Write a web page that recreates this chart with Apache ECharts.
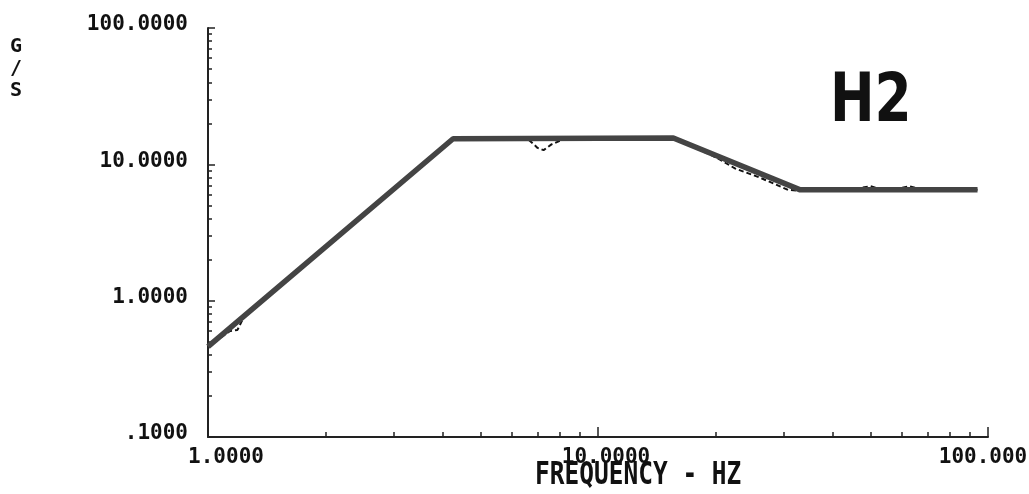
<!DOCTYPE html>
<html>
<head>
<meta charset="utf-8">
<script src="https://cdn.jsdelivr.net/npm/echarts@6/dist/echarts.min.js"></script>
<style>
  html, body { margin: 0; padding: 0; background: #fff; }
  #chart { width: 1029px; height: 494px; }
</style>
</head>
<body>
<div id="chart"></div>
<script>
// straight-line fit (thick grey line)
var fitFreq = [1.0, 4.25, 15.6, 33, 94];
var fitGs = [0.46, 15.4, 15.6, 6.5, 6.5];

// measured response (thin dashed line, mostly hidden under the fit)
var measFreq = [1.0, 1.14, 1.19, 1.23, 1.35, 4.25, 6.6, 7.0, 7.25, 7.6, 8.2, 15.6, 20, 22.5, 26, 30.7, 33, 45, 50, 53, 58, 63, 67, 94];
var measGs = [0.46, 0.60, 0.61, 0.74, 0.95, 15.4, 15.4, 13.2, 12.7, 14.0, 15.4, 15.6, 11.3, 9.3, 8.0, 6.5, 6.4, 6.6, 6.9, 6.6, 6.6, 6.9, 6.6, 6.5];

var xMajor = [1, 10, 100];
var xTickLabels = ['1.0000', '10.0000', '100.000'];
var yMajor = [0.1, 1, 10, 100];
var yTickLabels = ['.1000', '1.0000', '10.0000', '100.0000'];
var xMinor = [2, 3, 4, 5, 6, 7, 8, 9, 20, 30, 40, 50, 60, 70, 80, 90];
var yMinor = [0.2, 0.3, 0.4, 0.5, 0.6, 0.7, 0.8, 0.9, 2, 3, 4, 5, 6, 7, 8, 9, 20, 30, 40, 50, 60, 70, 80, 90];

function pairs(xs, ys) {
  return xs.map(function (x, i) { return [x, ys[i]]; });
}

var labelFont = {
  fontFamily: 'DejaVu Sans Mono',
  fontWeight: 'bold',
  fontSize: 21,
  color: '#111'
};

var chart = echarts.init(document.getElementById('chart'));

var option = {
  backgroundColor: '#fff',
  animation: false,
  grid: { left: 208, right: 41, top: 28, bottom: 57, outerBoundsMode: 'none', containLabel: false },
  xAxis: [
    {
      type: 'log', logBase: 10, min: 1, max: 100,
      position: 'bottom',
      axisLine: { show: true, lineStyle: { color: '#222', width: 2 } },
      axisTick: { show: true, inside: true, length: 5, customValues: xMinor, lineStyle: { color: '#222', width: 1.5 } },
      splitLine: { show: false },
      axisLabel: {
        show: true,
        margin: 10,
        customValues: xMajor,
        formatter: function (v) {
          var i = Math.round(Math.log10(v));
          return '{s' + i + '|' + xTickLabels[i] + '}';
        },
        rich: {
          s0: Object.assign({ padding: [0, 0, 0, 36] }, labelFont),
          s1: Object.assign({ padding: [0, 0, 0, 16] }, labelFont),
          s2: Object.assign({ padding: [0, 10, 0, 0] }, labelFont)
        }
      }
    },
    {
      type: 'log', logBase: 10, min: 1, max: 100,
      position: 'bottom',
      axisLine: { show: false },
      axisTick: { show: true, inside: true, length: 10, customValues: xMajor, lineStyle: { color: '#222', width: 1.5 } },
      axisLabel: { show: false },
      splitLine: { show: false }
    }
  ],
  yAxis: [
    {
      type: 'log', logBase: 10, min: 0.1, max: 100,
      position: 'left',
      axisLine: { show: true, lineStyle: { color: '#222', width: 2 } },
      axisTick: { show: true, inside: true, length: 4, customValues: yMinor, lineStyle: { color: '#222', width: 1.5 } },
      splitLine: { show: false },
      axisLabel: {
        show: true,
        margin: 20,
        customValues: yMajor,
        formatter: function (v) {
          var i = Math.round(Math.log10(v)) + 1;
          return '{t|' + yTickLabels[i] + '}';
        },
        rich: {
          t: Object.assign({ padding: [0, 0, 6, 0] }, labelFont)
        }
      }
    },
    {
      type: 'log', logBase: 10, min: 0.1, max: 100,
      position: 'left',
      axisLine: { show: false },
      axisTick: { show: true, inside: true, length: 7, customValues: yMajor, lineStyle: { color: '#222', width: 1.5 } },
      axisLabel: { show: false },
      splitLine: { show: false }
    }
  ],
  series: [
    {
      name: 'measured',
      type: 'line',
      data: pairs(measFreq, measGs),
      showSymbol: false,
      lineStyle: { color: '#111', width: 2, type: [5, 3] },
      z: 2
    },
    {
      name: 'fit',
      type: 'line',
      data: pairs(fitFreq, fitGs),
      showSymbol: false,
      lineStyle: { color: '#444', width: 5.5 },
      z: 3
    }
  ],
  graphic: [
    {
      type: 'text', left: 10, top: 36,
      style: { text: 'G\n/\nS', font: 'bold 20px "DejaVu Sans Mono"', fill: '#111', lineHeight: 22 }
    },
    {
      type: 'text', x: 535, y: 460, scaleX: 1.02, scaleY: 1.3,
      style: { text: 'FREQUENCY - HZ', font: 'bold 24px "DejaVu Sans Mono"', fill: '#111' }
    },
    {
      type: 'text', x: 830, y: 70, scaleX: 0.86, scaleY: 1.08,
      style: { text: 'H2', font: 'bold 62px "DejaVu Sans"', fill: '#111' }
    }
  ]
};

chart.setOption(option);
</script>
</body>
</html>
